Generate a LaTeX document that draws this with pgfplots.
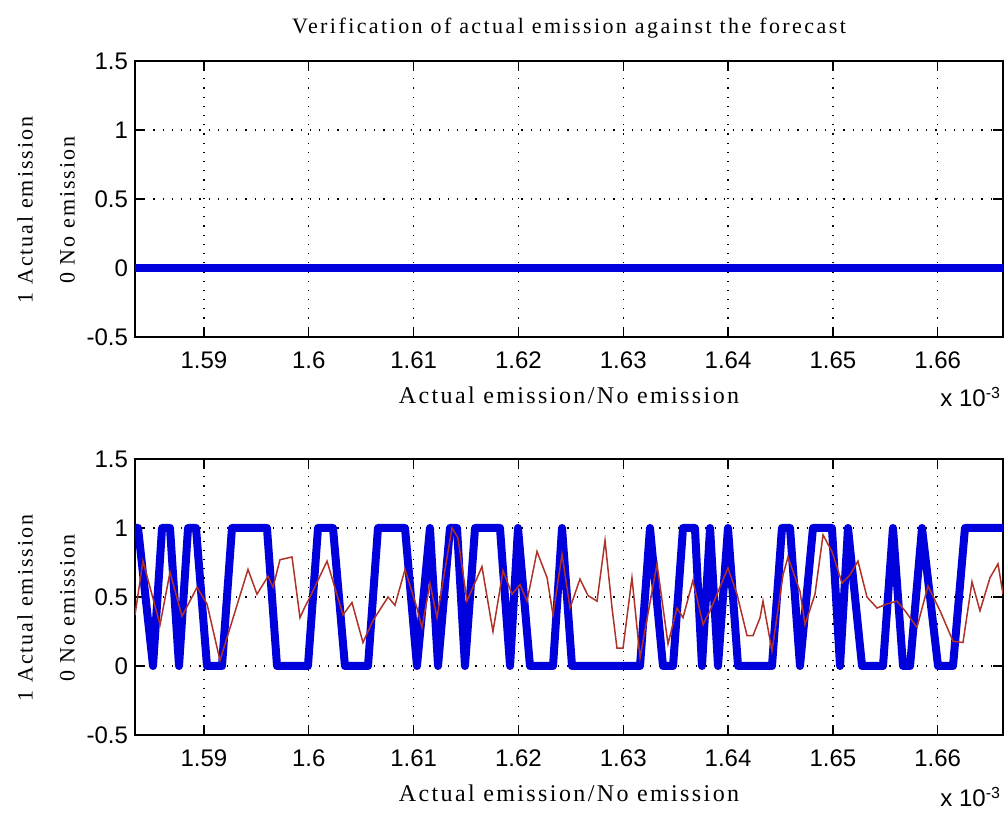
\documentclass[border=0pt]{standalone}
\usepackage{fontspec}
\setmainfont{Liberation Serif}
\setsansfont{Liberation Sans}
\newfontfamily\spaced[LetterSpace=9]{Liberation Serif}
\newfontfamily\spacedt[LetterSpace=11]{Liberation Serif}
\newfontfamily\spacedx[LetterSpace=10]{Liberation Serif}
\usepackage{pgfplots}
\pgfplotsset{compat=1.18}

\definecolor{mblue}{RGB}{0,0,220}
\definecolor{mred}{RGB}{175,50,40}

\pgfplotsset{
  emis/.style={
    scale only axis, width=434pt, height=138pt,
    xmin=1.58342, xmax=1.66623, ymin=-0.5, ymax=1.5,
    xtick={1.59,1.6,1.61,1.62,1.63,1.64,1.65,1.66},
    ytick={-0.5,0,0.5,1,1.5},
    scaled x ticks=false,
    grid=major,
    major grid style={black, line width=0.6pt, dash pattern=on 0.6pt off 4pt},
    axis line style={line width=0.6pt},
    tick style={black, line width=0.6pt},
    major tick length=5pt, tick align=inside,
    /pgf/number format/assume math mode=true,
    ticklabel style={font=\sffamily\fontsize{12}{14}\selectfont},
    xticklabel style={anchor=center, yshift=-11.5pt},
    xlabel={Actual emission/No emission},
    xlabel style={at={(axis description cs:0.5,0)}, anchor=center, yshift=-29pt,
      font=\spacedx\fontsize{12}{14}\selectfont},
    ylabel={1 Actual emission\\0 No emission},
    ylabel style={at={(axis description cs:-0.1025,0.46)}, anchor=center, align=center,
      font=\spaced\fontsize{11}{21}\selectfont},
  }
}

\begin{document}
\begin{tikzpicture}
\useasboundingbox (-67.5pt,-41pt) rectangle (435pt,367.5pt);

% top: actual emission only
\begin{axis}[emis, at={(0pt,199pt)}, anchor=south west,
  title={Verification of actual emission against the forecast},
  title style={at={(axis description cs:0.5,1)}, anchor=center, yshift=10.5pt,
    font=\spacedt\fontsize{11}{13}\selectfont}]
\addplot[mblue, line width=4pt] coordinates {(1.58342,0) (1.66623,0)};
\end{axis}

% bottom: actual emission vs forecast
\begin{axis}[emis, at={(0pt,0pt)}, anchor=south west]
\addplot[mblue, line width=4pt, line join=round] coordinates {
(1.58342,1) (1.58371,1) (1.58514,0) (1.58600,1) (1.58676,1) (1.58762,0) (1.58848,1)
(1.58924,1) (1.59029,0) (1.59172,0) (1.59267,1) (1.59601,1) (1.59697,0) (1.59992,0)
(1.60088,1) (1.60231,1) (1.60345,0) (1.60565,0) (1.60660,1) (1.60918,1) (1.61032,0)
(1.61156,1) (1.61233,0) (1.61347,1) (1.61414,1) (1.61490,0) (1.61586,1) (1.61824,1)
(1.61920,0) (1.61996,1) (1.62110,0) (1.62330,0) (1.62416,1) (1.62511,0) (1.63160,0)
(1.63255,1) (1.63379,0) (1.63475,0) (1.63570,1) (1.63684,1) (1.63751,0) (1.63828,1)
(1.63904,0) (1.63999,1) (1.64095,0) (1.64419,0) (1.64514,1) (1.64591,1) (1.64686,0)
(1.64810,1) (1.64991,1) (1.65068,0) (1.65144,1) (1.65278,0) (1.65478,0) (1.65573,1)
(1.65669,0) (1.65736,0) (1.65850,1) (1.66003,0) (1.66146,0) (1.66260,1) (1.66623,1)
};
\addplot[mred, line width=0.75pt] coordinates {
(1.58342,0.37) (1.58418,0.76) (1.58581,0.30) (1.58676,0.68) (1.58790,0.36) (1.58934,0.57)
(1.59029,0.45) (1.59153,0.04) (1.59420,0.70) (1.59506,0.52) (1.59611,0.65) (1.59659,0.57)
(1.59725,0.77) (1.59840,0.79) (1.59916,0.35) (1.59964,0.43) (1.60012,0.50) (1.60174,0.76)
(1.60326,0.37) (1.60412,0.46) (1.60517,0.17) (1.60613,0.33) (1.60756,0.50) (1.60822,0.44)
(1.60918,0.70) (1.61032,0.42) (1.61080,0.28) (1.61156,0.60) (1.61223,0.35) (1.61366,1.00)
(1.61423,0.93) (1.61509,0.47) (1.61652,0.72) (1.61757,0.25) (1.61853,0.69) (1.61939,0.52)
(1.62015,0.59) (1.62082,0.47) (1.62177,0.83) (1.62273,0.64) (1.62330,0.37) (1.62416,0.81)
(1.62492,0.42) (1.62587,0.63) (1.62664,0.51) (1.62750,0.47) (1.62826,0.91) (1.62893,0.42)
(1.62940,0.13) (1.62998,0.13) (1.63083,0.64) (1.63160,0.06) (1.63322,0.74) (1.63427,0.16)
(1.63513,0.42) (1.63570,0.35) (1.63665,0.62) (1.63761,0.30) (1.63828,0.40) (1.63999,0.71)
(1.64085,0.52) (1.64181,0.22) (1.64238,0.22) (1.64305,0.35) (1.64333,0.47) (1.64419,0.11)
(1.64524,0.66) (1.64572,0.79) (1.64686,0.54) (1.64734,0.30) (1.64829,0.52) (1.64906,0.95)
(1.64991,0.83) (1.65087,0.60) (1.65163,0.66) (1.65239,0.76) (1.65325,0.50) (1.65421,0.42)
(1.65516,0.45) (1.65612,0.47) (1.65688,0.40) (1.65802,0.28) (1.65907,0.58) (1.66022,0.40)
(1.66146,0.18) (1.66241,0.17) (1.66327,0.61) (1.66403,0.40) (1.66499,0.64) (1.66575,0.74)
(1.66623,0.52)
};
\end{axis}

% exponent of the x axis
\node[anchor=base west, inner sep=0, font=\sffamily\fontsize{12}{14}\selectfont]
  at (402.5pt,164pt) {x 10\textsuperscript{-3}};
\node[anchor=base west, inner sep=0, font=\sffamily\fontsize{12}{14}\selectfont]
  at (402.5pt,-36pt) {x 10\textsuperscript{-3}};
\end{tikzpicture}
\end{document}
